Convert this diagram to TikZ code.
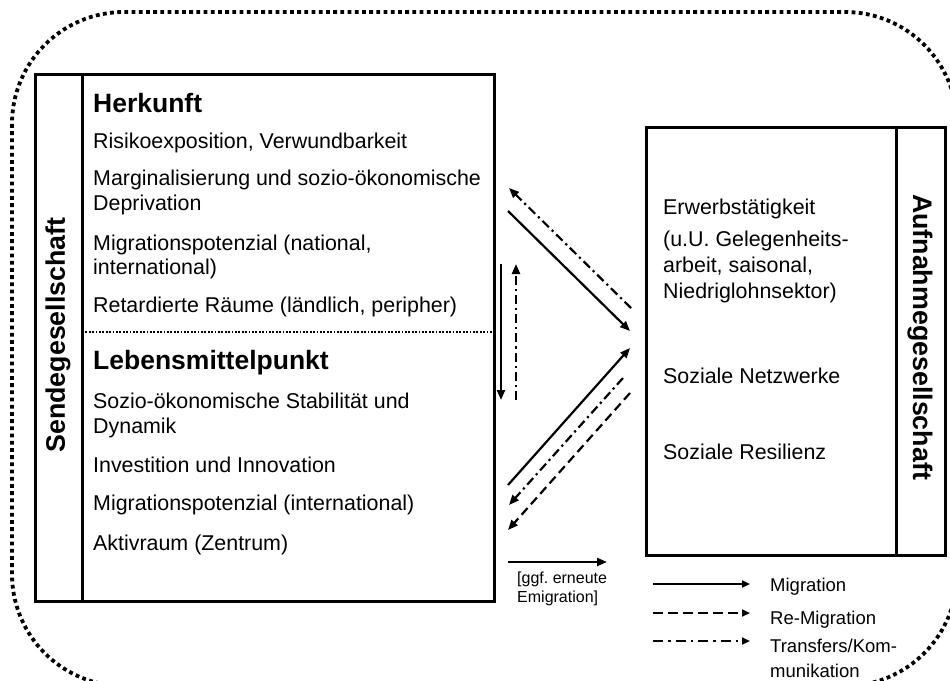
\documentclass[tikz,border=0pt]{standalone}
\usepackage{fontspec}
\setmainfont{Liberation Sans}
\usetikzlibrary{arrows.meta}
\frenchspacing
\begin{document}
\begin{tikzpicture}[x=1pt,y=-1pt,
  body/.style={anchor=base west, inner sep=0pt, font=\fontsize{21.4}{25}\selectfont},
  head/.style={anchor=base west, inner sep=0pt, font=\fontsize{26.5}{30}\selectfont\bfseries},
  side/.style={inner sep=0pt, font=\fontsize{26.8}{30}\selectfont\bfseries},
  legtext/.style={anchor=base west, inner sep=0pt, font=\fontsize{18.5}{22}\selectfont},
  smalltext/.style={anchor=base west, inner sep=0pt, font=\fontsize{16}{19}\selectfont},
  boxline/.style={line width=3pt},
  panel/.style={draw, boxline, anchor=north west, inner sep=0pt},
  arr/.style={line width=2.2pt, -{Triangle[length=10pt,width=8pt]}},
  legarr/.style={line width=2.2pt, -{Triangle[length=8pt,width=7pt]}},
  dashd/.style={dash pattern=on 9pt off 5pt},
  dashdot/.style={dash pattern=on 9pt off 4pt on 2.2pt off 4pt},
]
\useasboundingbox (0,0) rectangle (950,680);
\begin{scope}
\clip (0,0) rectangle (950,680);
\draw[line width=3.8pt, dash pattern=on 3.8pt off 3.4pt, rounded corners=112pt] (12,12) rectangle (957,686);
\end{scope}

% left panel
\node[panel, minimum width=459pt, minimum height=527pt] (left) at (34,73) {};
\draw[boxline] (82,73) -- (82,600);
\draw[line width=1.8pt, dash pattern=on 1.8pt off 1.6pt] (82,332) -- (493,332);
\node[side, rotate=90] (send) at (58,335) {Sendegesellschaft};

\node[head] (h1) at (93,112) {Herkunft};
\node[body] (t1) at (93,148) {Risikoexposition, Verwundbarkeit};
\node[body] (t2) at (93,185) {Marginalisierung und sozio-ökonomische};
\node[body] (t2b) at (93,210) {Deprivation};
\node[body] (t3) at (93,250) {Migrationspotenzial (national,};
\node[body] (t3b) at (93,274) {international)};
\node[body] (t4) at (93,312) {Retardierte Räume (ländlich, peripher)};

\node[head] (h2) at (93,369) {Lebensmittelpunkt};
\node[body] (t5) at (93,408) {Sozio-ökonomische Stabilität und};
\node[body] (t5b) at (93,433) {Dynamik};
\node[body] (t6) at (93,472) {Investition und Innovation};
\node[body] (t7) at (93,510) {Migrationspotenzial (international)};
\node[body] (t8) at (93,550) {Aktivraum (Zentrum)};

% right panel
\node[panel, minimum width=299pt, minimum height=428pt] (right) at (645,126) {};
\draw[boxline] (896,126) -- (896,554);
\node[side, rotate=-90] (auf) at (920,337) {Aufnahmegesellschaft};

\node[body] (r1) at (663,214) {Erwerbstätigkeit};
\node[body] (r2) at (663,246) {(u.U. Gelegenheits-};
\node[body] (r2b) at (663,272) {arbeit, saisonal,};
\node[body] (r2c) at (663,298) {Niedriglohnsektor)};
\node[body] (r3) at (663,383) {Soziale Netzwerke};
\node[body] (r4) at (663,459) {Soziale Resilienz};

% arrow end points
\coordinate (a1s) at (508,211); \coordinate (a1e) at (630,331);
\coordinate (a2s) at (631,308); \coordinate (a2e) at (509,188);
\coordinate (v1s) at (501,264); \coordinate (v1e) at (501,400);
\coordinate (v2s) at (516,400); \coordinate (v2e) at (516,264);
\coordinate (b1s) at (508,485); \coordinate (b1e) at (630,348);
\coordinate (b2s) at (623,378); \coordinate (b2e) at (509,505);
\coordinate (b3s) at (630,393); \coordinate (b3e) at (508,530);
\coordinate (hs) at (508,562); \coordinate (he) at (607,562);

\draw[arr] (a1s) -- (a1e);
\draw[arr, dashdot] (a2s) -- (a2e);
\draw[arr] (v1s) -- (v1e);
\draw[arr, dashdot] (v2s) -- (v2e);
\draw[arr] (b1s) -- (b1e);
\draw[arr, dashdot] (b2s) -- (b2e);
\draw[arr, dashd] (b3s) -- (b3e);
\draw[arr] (hs) -- (he);

\node[smalltext] (g1) at (517,583) {[ggf. erneute};
\node[smalltext] (g2) at (517,602) {Emigration]};

% legend
\coordinate (l1s) at (653,584); \coordinate (l1e) at (750,584);
\coordinate (l2s) at (653,613); \coordinate (l2e) at (750,613);
\coordinate (l3s) at (653,641); \coordinate (l3e) at (750,641);
\draw[legarr] (l1s) -- (l1e);
\draw[legarr, dash pattern=on 10pt off 5pt] (l2s) -- (l2e);
\draw[legarr, dash pattern=on 10pt off 5pt on 2.5pt off 5pt] (l3s) -- (l3e);
\node[legtext] (m1) at (770,591) {Migration};
\node[legtext] (m2) at (770,624) {Re-Migration};
\node[legtext] (m3) at (770,652) {Transfers/Kom-};
\node[legtext] (m3b) at (770,677) {munikation};
\end{tikzpicture}
\end{document}
